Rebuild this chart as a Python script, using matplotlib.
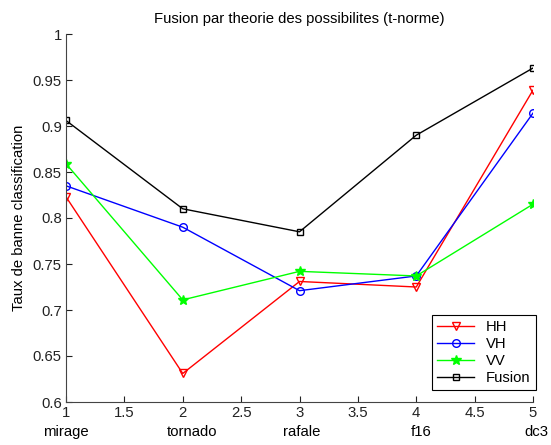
import matplotlib
matplotlib.use("Agg")
import matplotlib.pyplot as plt

plt.rcParams['font.family'] = ['Liberation Sans', 'DejaVu Sans']

# %% Data
x = [1, 2, 3, 4, 5]
avions = ['mirage', 'tornado', 'rafale', 'f16', 'dc3']
hh = [0.823, 0.631, 0.731, 0.725, 0.939]
vh = [0.835, 0.790, 0.721, 0.737, 0.914]
vv = [0.859, 0.711, 0.742, 0.737, 0.815]
fusion = [0.906, 0.810, 0.785, 0.890, 0.963]

# %% Plot
fs = 10.7
fig = plt.figure(figsize=(5.51, 4.45), dpi=100)
ax = fig.add_axes([66 / 551, 43 / 445, 467 / 551, 368 / 445])

ax.plot(x, hh, color='r', marker='v', mfc='none', ms=6, lw=1, label='HH')
ax.plot(x, vh, color='b', marker='o', mfc='none', ms=5.5, lw=1, label='VH')
ax.plot(x, vv, color='#00ff00', marker='*', ms=7, lw=1, label='VV')
ax.plot(x, fusion, color='k', marker='s', mfc='none', ms=5, lw=1, label='Fusion')

ax.set_xlim(1, 5)
ax.set_ylim(0.6, 1)
ax.set_xticks([1, 1.5, 2, 2.5, 3, 3.5, 4, 4.5, 5])
ax.set_xticklabels(['1', '1.5', '2', '2.5', '3', '3.5', '4', '4.5', '5'])
ax.set_yticks([0.6, 0.65, 0.7, 0.75, 0.8, 0.85, 0.9, 0.95, 1])
ax.set_yticklabels(['0.6', '0.65', '0.7', '0.75', '0.8', '0.85', '0.9', '0.95', '1'])
ax.tick_params(direction='in', length=4, labelsize=fs, colors='#222222', pad=3)
for s in ['top', 'right']:
    ax.spines[s].set_visible(False)
for s in ['left', 'bottom']:
    ax.spines[s].set_color('#444444')

ax.set_title("Fusion par theorie des possibilites (t-norme)", fontsize=fs, pad=8)
ax.set_ylabel("Taux de banne classification", fontsize=fs, labelpad=5)

# aircraft names under the numeric ticks
shift = [0.0, 0.08, 0.02, 0.04, 0.03]
for i, name in enumerate(avions):
    ax.text(x[i] + shift[i], -0.082, name, transform=ax.get_xaxis_transform(),
            ha='center', va='center', fontsize=fs, clip_on=False)

leg = ax.legend(loc='lower right', bbox_to_anchor=(1.0064, 0.0326), borderaxespad=0,
                fontsize=fs, frameon=True, fancybox=False, edgecolor='k', framealpha=1,
                handlelength=2.5, borderpad=0.35, labelspacing=0.2, handletextpad=0.8)
leg.get_frame().set_linewidth(0.8)

plt.savefig('out.png', dpi=100)
